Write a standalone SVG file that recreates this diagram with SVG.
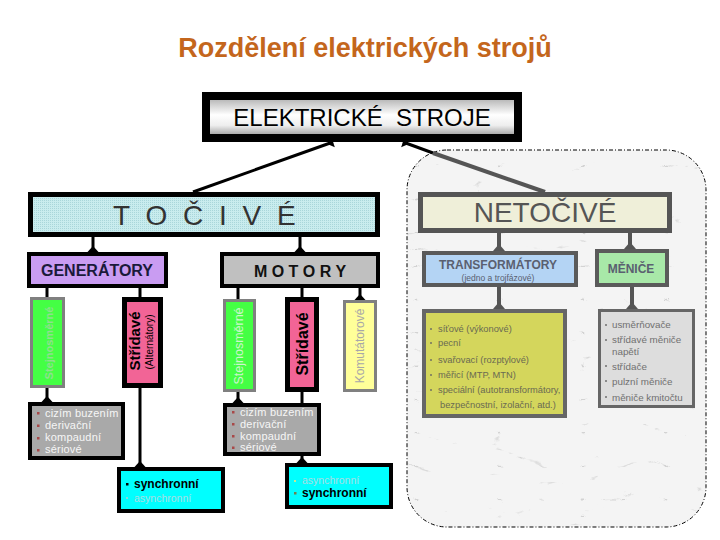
<svg xmlns="http://www.w3.org/2000/svg" width="720" height="540" viewBox="0 0 720 540">
<defs>
<style>
text{font-family:"Liberation Sans",Arial,sans-serif}
.blk{fill:none;stroke:#000;stroke-width:3}
.gry{fill:none;stroke:#555;stroke-width:4}
.fb{marker-end:url(#footB)}
.fg{marker-end:url(#footG)}
.bx{stroke:#000;stroke-width:4}
.gbx{stroke:#808080;stroke-width:3}
.nbx{stroke:#5a5a5a;stroke-width:4}
.li{font-size:11px;fill:#f6f6f6;letter-spacing:0.2px}
.tl{font-size:9.3px;fill:#6a6a52}
.ml{font-size:9.8px;fill:#707070}
.bul{fill:#a84848}
</style>
<marker id="footB" markerUnits="userSpaceOnUse" markerWidth="14" markerHeight="14" refX="0" refY="0" viewBox="-7 -7 14 14" orient="auto-start-reverse">
<path d="M0,-5.5 L0,5.5 L-6,0 Z" fill="#000"/>
</marker>
<marker id="footG" markerUnits="userSpaceOnUse" markerWidth="14" markerHeight="14" refX="0" refY="0" viewBox="-7 -7 14 14" orient="auto-start-reverse">
<path d="M0,-6 L0,6 L-7,0 Z" fill="#555"/>
</marker>
<linearGradient id="cyl" x1="0" y1="0" x2="0" y2="1">
<stop offset="0" stop-color="#a8a8a8"/>
<stop offset="0.45" stop-color="#ffffff"/>
<stop offset="0.7" stop-color="#eeeeee"/>
<stop offset="1" stop-color="#8c8c8c"/>
</linearGradient>
<pattern id="dots" width="2" height="2" patternUnits="userSpaceOnUse">
<rect width="2" height="2" fill="#c9ecee"/>
<rect width="1" height="1" fill="#a9d6da"/>
</pattern>
<filter id="marble" x="0" y="0" width="1" height="1" color-interpolation-filters="sRGB">
<feTurbulence type="turbulence" baseFrequency="0.012 0.03" numOctaves="4" seed="11" result="n"/>
<feColorMatrix in="n" type="matrix" values="0 0 0 0 0.74  0 0 0 0 0.74  0 0 0 0 0.74  -7 0 0 0 0.6" result="v"/>
<feComposite in="v" in2="SourceGraphic" operator="in" result="vc"/>
<feMerge><feMergeNode in="SourceGraphic"/><feMergeNode in="vc"/></feMerge>
</filter>
</defs>

<rect width="720" height="540" fill="#ffffff"/>

<text x="365" y="57" text-anchor="middle" font-size="27" font-weight="bold" fill="#c4661c">Rozdělení elektrických strojů</text>

<g id="netocive-area">
<rect x="407" y="150" width="299" height="377" rx="40" fill="#f4f4f4" filter="url(#marble)"/>
<rect x="407" y="150" width="299" height="377" rx="40" fill="none" stroke="#000" stroke-width="1" stroke-dasharray="4,2,1,2"/>
</g>

<g id="connectors">
<line class="blk" x1="333" y1="142" x2="193" y2="192" marker-start="url(#footB)"/>
<line class="blk" x1="403" y1="142" x2="433" y2="153" marker-start="url(#footB)"/>
<line class="gry" x1="433" y1="153" x2="545" y2="192"/>
<line class="blk fb" x1="93" y1="237" x2="93" y2="252"/>
<line class="blk fb" x1="300" y1="237" x2="300" y2="252"/>
<line class="blk" x1="47" y1="288" x2="47" y2="297"/>
<line class="blk" x1="140" y1="288" x2="140" y2="297"/>
<line class="blk fb" x1="47" y1="388" x2="47" y2="402"/>
<line class="blk fb" x1="140" y1="388" x2="140" y2="467"/>
<line class="blk" x1="238" y1="288" x2="238" y2="299"/>
<line class="blk" x1="302" y1="288" x2="302" y2="297"/>
<line class="blk fb" x1="360" y1="288" x2="360" y2="300"/>
<line class="blk fb" x1="238" y1="392" x2="238" y2="403"/>
<line class="blk fb" x1="302" y1="392" x2="302" y2="463"/>
<line class="gry fg" x1="499" y1="233" x2="499" y2="251"/>
<line class="gry fg" x1="630" y1="233" x2="630" y2="249"/>
<line class="gry fg" x1="499" y1="287" x2="499" y2="309"/>
<line class="gry fg" x1="632" y1="287" x2="632" y2="309"/>
</g>

<g id="elektricke-stroje">
<rect x="206" y="96" width="312" height="42" fill="url(#cyl)" stroke="#000" stroke-width="8"/>
<text x="362" y="126" text-anchor="middle" font-size="24" fill="#000" style="white-space:pre">ELEKTRICKÉ  STROJE</text>
</g>

<g id="tocive">
<rect x="30.5" y="194.5" width="347" height="40" fill="url(#dots)" stroke="#000" stroke-width="5"/>
<text x="113" y="225" font-size="28" letter-spacing="4" fill="#333">T O Č I V É</text>
</g>

<g id="generatory">
<rect x="29" y="254" width="137" height="32" fill="#c99cf2" class="bx"/>
<text x="97" y="276" text-anchor="middle" font-size="16" font-weight="bold" fill="#1a1a3a">GENERÁTORY</text>
</g>

<g id="motory">
<rect x="222" y="254" width="156" height="32" fill="#c0c0c0" class="bx"/>
<text x="300" y="277" text-anchor="middle" font-size="16" font-weight="bold" fill="#111">M O T O R Y</text>
</g>

<g id="gen-stejnosmerne">
<rect x="31.5" y="298.5" width="32" height="88" fill="#44ff44" class="gbx"/>
<text transform="translate(53,343) rotate(-90)" text-anchor="middle" font-size="11" font-weight="bold" fill="#8ee08e">Stejnosměrné</text>
</g>

<g id="gen-stridave">
<rect x="124.5" y="299.5" width="36" height="86" fill="#f26496" stroke="#000" stroke-width="5"/>
<text transform="translate(140,341) rotate(-90)" text-anchor="middle" font-size="15" font-weight="bold" fill="#000">Střídavé</text>
<text transform="translate(153,342) rotate(-90)" text-anchor="middle" font-size="10" fill="#000">(Alternátory)</text>
</g>

<g id="gen-buzeni">
<rect x="30" y="404" width="93" height="54" fill="#a9a9a9" class="bx"/>
<rect class="bul" x="37" y="412" width="2.5" height="2.5"/>
<rect class="bul" x="37" y="424.5" width="2.5" height="2.5"/>
<rect class="bul" x="37" y="437" width="2.5" height="2.5"/>
<rect class="bul" x="37" y="449" width="2.5" height="2.5"/>
<text class="li" x="45" y="417">cizím buzením</text>
<text class="li" x="45" y="429">derivační</text>
<text class="li" x="45" y="441">kompaudní</text>
<text class="li" x="45" y="453">sériové</text>
</g>

<g id="gen-sync">
<rect x="119" y="469" width="104" height="42" fill="#00ffff" class="bx"/>
<rect x="126" y="483" width="2.5" height="2.5" fill="#000"/>
<rect x="126" y="497" width="2" height="2" fill="#8cd8dc"/>
<text x="134" y="488" font-size="12" font-weight="bold" fill="#000">synchronní</text>
<text x="134" y="502" font-size="10.5" fill="#a8dde4">asynchronní</text>
</g>

<g id="mot-stejnosmerne">
<rect x="224.5" y="300.5" width="30" height="90" fill="#44ff44" class="gbx"/>
<text transform="translate(243,346) rotate(-90)" text-anchor="middle" font-size="12.5" fill="#cdf5cd">Stejnosměrné</text>
</g>

<g id="mot-stridave">
<rect x="287.5" y="299.5" width="29" height="90" fill="#f26496" stroke="#000" stroke-width="5"/>
<text transform="translate(308,344) rotate(-90)" text-anchor="middle" font-size="16" font-weight="bold" fill="#000">Střídavé</text>
</g>

<g id="mot-komutatorove">
<rect x="344.5" y="301.5" width="31" height="89" fill="#ffff99" class="gbx"/>
<text transform="translate(364,346) rotate(-90)" text-anchor="middle" font-size="12" fill="#a8a8a8">Komutátorové</text>
</g>

<g id="mot-buzeni">
<rect x="225" y="405" width="94" height="49" fill="#a9a9a9" class="bx"/>
<rect class="bul" x="232" y="411" width="2.5" height="2.5"/>
<rect class="bul" x="232" y="423" width="2.5" height="2.5"/>
<rect class="bul" x="232" y="435" width="2.5" height="2.5"/>
<rect class="bul" x="232" y="446.5" width="2.5" height="2.5"/>
<text class="li" x="240" y="416">cizím buzením</text>
<text class="li" x="240" y="428">derivační</text>
<text class="li" x="240" y="440">kompaudní</text>
<text class="li" x="240" y="451">sériové</text>
</g>

<g id="mot-sync">
<rect x="287" y="465" width="104" height="42" fill="#00ffff" class="bx"/>
<rect x="294" y="480" width="2" height="2" fill="#c8e890"/>
<rect x="294" y="492" width="2.5" height="2.5" fill="#708050"/>
<text x="302" y="484" font-size="10.5" fill="#a8dde4">asynchronní</text>
<text x="302" y="497" font-size="12" font-weight="bold" fill="#000">synchronní</text>
</g>

<g id="netocive">
<rect x="420.5" y="194.5" width="249" height="36" fill="#efefd9" stroke="#555" stroke-width="5"/>
<text x="545" y="222" text-anchor="middle" font-size="28" fill="#555">NETOČIVÉ</text>
</g>

<g id="transformatory">
<rect x="424" y="253" width="152" height="32" fill="#b4d4f4" class="nbx"/>
<text x="498" y="269" text-anchor="middle" font-size="12" font-weight="bold" fill="#5a6070">TRANSFORMÁTORY</text>
<text x="498" y="281" text-anchor="middle" font-size="8.5" fill="#5a6070">(jedno a trojfázové)</text>
</g>

<g id="menice">
<rect x="597" y="251" width="70" height="34" fill="#a8e8a8" class="nbx"/>
<text x="631" y="273" text-anchor="middle" font-size="12" font-weight="bold" fill="#5a6070">MĚNIČE</text>
</g>

<g id="transformatory-list">
<rect x="424" y="311" width="141" height="105" fill="#d4d65c" stroke="#666" stroke-width="4"/>
<g fill="#8a8a60">
<rect x="430" y="328" width="2" height="2"/>
<rect x="430" y="342" width="2" height="2"/>
<rect x="430" y="359" width="2" height="2"/>
<rect x="430" y="374" width="2" height="2"/>
<rect x="430" y="389" width="2" height="2"/>
</g>
<text class="tl" x="438" y="332">síťové (výkonové)</text>
<text class="tl" x="438" y="346">pecní</text>
<text class="tl" x="438" y="363">svařovací (rozptylové)</text>
<text class="tl" x="438" y="378">měřicí (MTP, MTN)</text>
<text class="tl" x="438" y="393">speciální (autotransformátory,</text>
<text class="tl" x="440" y="408">bezpečnostní, izolační, atd.)</text>
</g>

<g id="menice-list">
<rect x="599.5" y="310.5" width="94" height="96" fill="#dddddd" stroke="#666" stroke-width="3"/>
<g fill="#8a8a8a">
<rect x="605" y="324" width="2" height="2"/>
<rect x="605" y="339" width="2" height="2"/>
<rect x="605" y="365" width="2" height="2"/>
<rect x="605" y="380" width="2" height="2"/>
<rect x="605" y="396" width="2" height="2"/>
</g>
<text class="ml" x="612" y="328">usměrňovače</text>
<text class="ml" x="612" y="343">střídavé měniče</text>
<text class="ml" x="612" y="355">napětí</text>
<text class="ml" x="612" y="370">střídače</text>
<text class="ml" x="612" y="385">pulzní měniče</text>
<text class="ml" x="612" y="401">měniče kmitočtu</text>
</g>
</svg>
